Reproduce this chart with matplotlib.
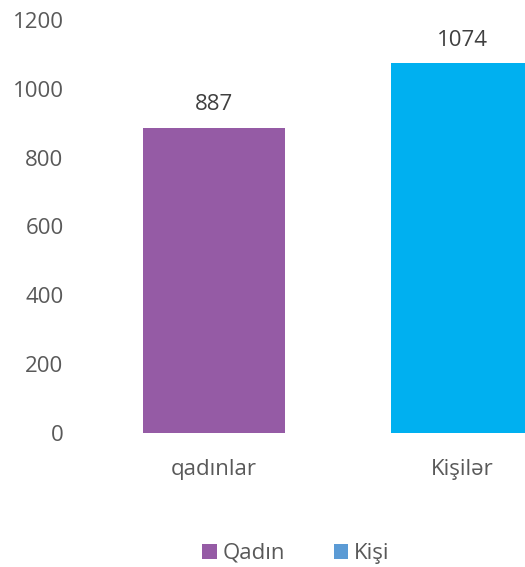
import matplotlib
matplotlib.use("Agg")
import matplotlib.pyplot as plt
from matplotlib.patches import Patch

categories = ["qadınlar", "Kişilər"]
values = [887, 1074]
bar_colors = ["#955BA5", "#00B0F0"]
legend_labels = ["Qadın", "Kişi"]
legend_colors = ["#955BA5", "#5B9BD5"]
yticks = [0, 200, 400, 600, 800, 1000, 1200]

plt.rcParams['font.family'] = ['Open Sans', 'DejaVu Sans']
txt = "#595959"
fs = 16

fig = plt.figure(figsize=(5.25, 5.67), dpi=100)
ax = fig.add_axes([90/525, 134/567, 496/525, 413/567])
x = list(range(len(categories)))
bars = ax.bar(x, values, width=0.573, color=bar_colors)
ax.set_xlim(-0.5, 1.5)
ax.set_ylim(0, 1200)
ax.set_yticks(yticks)
ax.set_xticks(x)
ax.set_xticklabels(categories)
for s in ax.spines.values():
    s.set_visible(False)
ax.tick_params(axis='y', length=0, pad=19, labelsize=fs, labelcolor=txt)
ax.tick_params(axis='x', length=0, pad=19, labelsize=fs, labelcolor=txt)
for b, v in zip(bars, values):
    ax.annotate(str(v), (b.get_x() + b.get_width()/2, v), xytext=(0, 9),
                textcoords='offset points', ha='center', va='bottom',
                fontsize=fs, color="#404040")
handles = [Patch(facecolor=c, label=l) for c, l in zip(legend_colors, legend_labels)]
fig.legend(handles=handles, loc='center', bbox_to_anchor=(0.563, 0.024), ncol=2,
           frameon=False, fontsize=fs, labelcolor=txt, handlelength=0.65,
           handleheight=0.65, handletextpad=0.25, columnspacing=2.2,
           borderpad=0.1)
fig.savefig("out.png", dpi=100)
